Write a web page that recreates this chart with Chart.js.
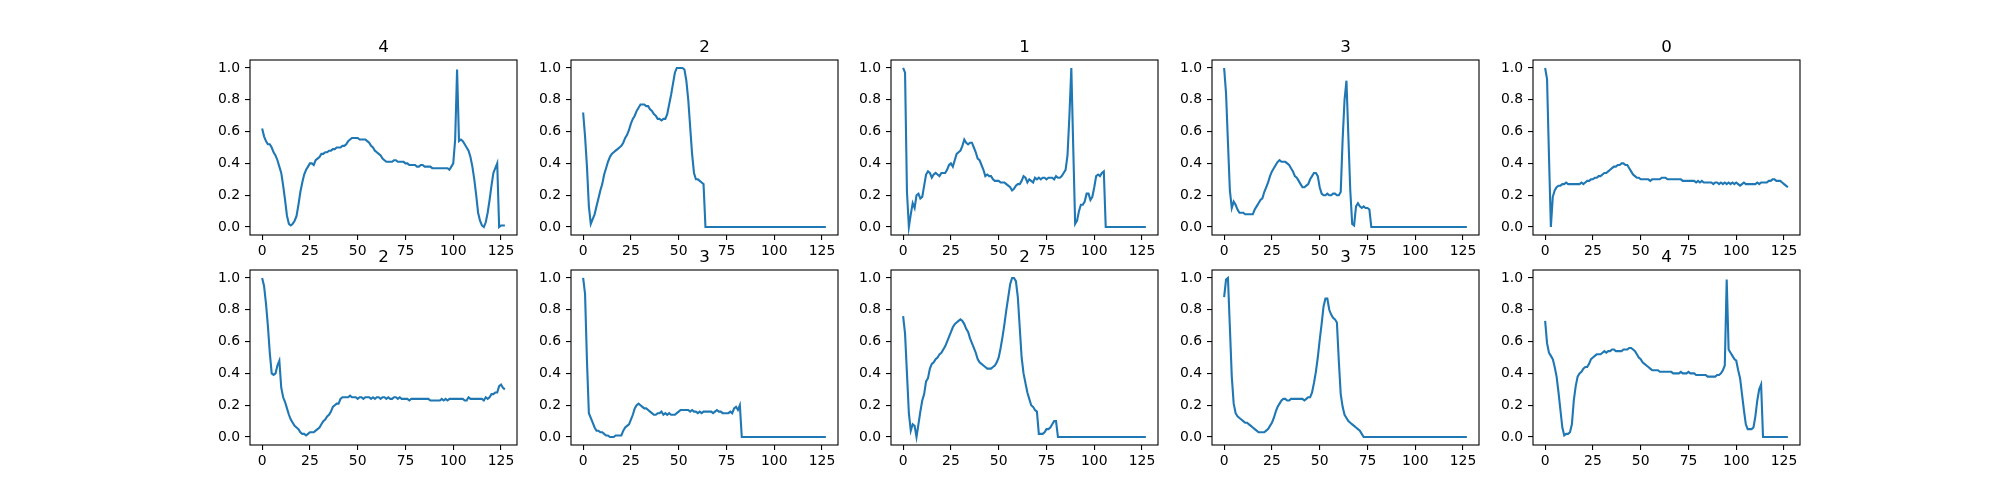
<!DOCTYPE html>
<html>
<head>
<meta charset="utf-8">
<script src="https://cdn.jsdelivr.net/npm/chart.js@4.4.0/dist/chart.umd.min.js"></script>
<style>
    html, body { margin: 0; padding: 0; background: #fff; }
    #fig { position: relative; width: 2000px; height: 500px; overflow: hidden; background: #fff; }
    #fig canvas { position: absolute; }
</style>
</head>
<body>
<div id="fig"></div>
<script>
var titles = ['4', '2', '1', '3', '0', '2', '3', '2', '3', '4'];
var xTicks = [0, 25, 50, 75, 100, 125];
var yTicks = [0, 0.2, 0.4, 0.6, 0.8, 1.0];

var sig1 = [
    0.62,0.57,0.54,0.52,0.52,0.50,0.47,0.45,0.42,0.38,0.34,0.26,0.17,0.07,0.02,0.01,
    0.02,0.04,0.07,0.14,0.22,0.28,0.33,0.36,0.38,0.40,0.40,0.39,0.42,0.43,0.44,0.46,
    0.46,0.47,0.47,0.48,0.48,0.49,0.49,0.50,0.50,0.50,0.51,0.51,0.52,0.54,0.55,0.56,
    0.56,0.56,0.56,0.55,0.55,0.55,0.55,0.54,0.53,0.51,0.50,0.48,0.47,0.46,0.45,0.43,
    0.42,0.41,0.41,0.41,0.41,0.42,0.42,0.41,0.41,0.41,0.41,0.40,0.40,0.39,0.39,0.39,
    0.39,0.38,0.38,0.39,0.39,0.38,0.38,0.38,0.38,0.37,0.37,0.37,0.37,0.37,0.37,0.37,
    0.37,0.37,0.36,0.38,0.40,0.55,0.99,0.54,0.55,0.54,0.52,0.50,0.48,0.44,0.38,0.30,
    0.20,0.09,0.04,0.01,0.00,0.03,0.09,0.17,0.26,0.34,0.37,0.40,0.00,0.01,0.01,0.01
];
var sig2 = [
    0.72,0.57,0.38,0.13,0.02,0.05,0.08,0.13,0.18,0.23,0.27,0.33,0.37,0.41,0.44,0.46,
    0.47,0.48,0.49,0.50,0.51,0.53,0.56,0.58,0.61,0.65,0.68,0.70,0.73,0.75,0.77,0.77,
    0.77,0.76,0.76,0.74,0.73,0.71,0.70,0.68,0.68,0.67,0.68,0.68,0.71,0.77,0.83,0.90,
    0.97,1.00,1.00,1.00,1.00,0.99,0.92,0.80,0.63,0.46,0.34,0.30,0.30,0.29,0.28,0.27,
    0,0,0,0,0,0,0,0,0,0,0,0,0,0,0,0,
    0,0,0,0,0,0,0,0,0,0,0,0,0,0,0,0,
    0,0,0,0,0,0,0,0,0,0,0,0,0,0,0,0,
    0,0,0,0,0,0,0,0,0,0,0,0,0,0,0,0
];
var sig3 = [
    1.00,0.97,0.22,0.00,0.08,0.15,0.12,0.20,0.21,0.18,0.19,0.26,0.33,0.35,0.34,0.31,
    0.33,0.34,0.33,0.32,0.34,0.34,0.34,0.36,0.39,0.40,0.38,0.42,0.46,0.47,0.48,0.51,
    0.55,0.53,0.52,0.53,0.53,0.50,0.47,0.43,0.42,0.39,0.36,0.32,0.33,0.32,0.32,0.30,
    0.29,0.29,0.29,0.28,0.28,0.28,0.27,0.26,0.25,0.23,0.24,0.26,0.27,0.27,0.29,0.32,
    0.31,0.28,0.30,0.29,0.28,0.31,0.30,0.31,0.30,0.31,0.31,0.30,0.31,0.31,0.31,0.30,
    0.32,0.31,0.31,0.32,0.34,0.36,0.45,0.70,1.00,0.50,0.02,0.04,0.10,0.14,0.14,0.16,
    0.21,0.21,0.17,0.19,0.25,0.32,0.33,0.32,0.34,0.35,0,0,0,0,0,0,
    0,0,0,0,0,0,0,0,0,0,0,0,0,0,0,0
];
var sig4 = [
    1.00,0.84,0.53,0.23,0.12,0.16,0.14,0.11,0.09,0.09,0.09,0.08,0.08,0.08,0.08,0.08,
    0.11,0.13,0.15,0.17,0.18,0.22,0.25,0.28,0.32,0.35,0.37,0.39,0.41,0.42,0.41,0.41,
    0.41,0.40,0.39,0.37,0.35,0.32,0.31,0.29,0.27,0.25,0.25,0.26,0.27,0.30,0.32,0.34,
    0.34,0.32,0.25,0.21,0.20,0.20,0.21,0.20,0.20,0.21,0.21,0.20,0.20,0.22,0.55,0.80,
    0.92,0.57,0.23,0.02,0.01,0.13,0.15,0.13,0.12,0.13,0.12,0.12,0.11,0,0,0,
    0,0,0,0,0,0,0,0,0,0,0,0,0,0,0,0,
    0,0,0,0,0,0,0,0,0,0,0,0,0,0,0,0,
    0,0,0,0,0,0,0,0,0,0,0,0,0,0,0,0
];
var sig5 = [
    1.00,0.93,0.45,0.00,0.19,0.23,0.25,0.26,0.26,0.27,0.27,0.28,0.27,0.27,0.27,0.27,
    0.27,0.27,0.27,0.28,0.27,0.28,0.29,0.29,0.30,0.30,0.31,0.31,0.32,0.32,0.33,0.34,
    0.34,0.35,0.36,0.37,0.38,0.38,0.39,0.39,0.40,0.40,0.39,0.39,0.37,0.35,0.33,0.32,
    0.31,0.31,0.30,0.30,0.30,0.30,0.30,0.29,0.30,0.30,0.30,0.30,0.30,0.31,0.31,0.31,
    0.30,0.30,0.30,0.30,0.30,0.30,0.30,0.30,0.29,0.29,0.29,0.29,0.29,0.29,0.29,0.28,
    0.29,0.28,0.29,0.28,0.28,0.28,0.28,0.28,0.27,0.28,0.28,0.27,0.28,0.27,0.28,0.27,
    0.28,0.27,0.28,0.27,0.28,0.27,0.26,0.27,0.28,0.27,0.27,0.27,0.27,0.27,0.27,0.28,
    0.27,0.28,0.28,0.28,0.28,0.29,0.29,0.30,0.30,0.29,0.29,0.29,0.28,0.27,0.26,0.25
];
var sig6 = [
    1.00,0.95,0.84,0.70,0.53,0.40,0.39,0.40,0.45,0.48,0.31,0.25,0.22,0.18,0.14,0.11,
    0.09,0.07,0.06,0.05,0.03,0.02,0.02,0.01,0.02,0.03,0.03,0.03,0.04,0.05,0.06,0.08,
    0.10,0.11,0.13,0.14,0.16,0.19,0.20,0.21,0.21,0.24,0.25,0.25,0.25,0.25,0.26,0.25,
    0.25,0.25,0.24,0.25,0.25,0.24,0.25,0.25,0.25,0.24,0.25,0.24,0.25,0.25,0.24,0.25,
    0.25,0.24,0.25,0.24,0.24,0.25,0.25,0.24,0.25,0.24,0.24,0.24,0.24,0.23,0.24,0.24,
    0.24,0.24,0.24,0.24,0.24,0.24,0.24,0.24,0.23,0.23,0.23,0.23,0.23,0.23,0.24,0.23,
    0.24,0.23,0.24,0.24,0.24,0.24,0.24,0.24,0.24,0.24,0.23,0.23,0.25,0.24,0.24,0.24,
    0.24,0.24,0.24,0.24,0.23,0.25,0.24,0.25,0.27,0.27,0.28,0.28,0.32,0.33,0.31,0.30
];
var sig7 = [
    1.00,0.90,0.48,0.15,0.12,0.09,0.06,0.04,0.04,0.03,0.03,0.02,0.01,0.01,0.00,0.00,
    0.00,0.01,0.01,0.01,0.01,0.04,0.06,0.07,0.08,0.11,0.14,0.18,0.20,0.21,0.20,0.19,
    0.18,0.18,0.17,0.16,0.15,0.14,0.14,0.15,0.15,0.16,0.14,0.15,0.14,0.15,0.14,0.14,
    0.14,0.15,0.16,0.17,0.17,0.17,0.17,0.17,0.16,0.17,0.16,0.16,0.15,0.16,0.15,0.16,
    0.16,0.16,0.16,0.16,0.15,0.16,0.17,0.16,0.16,0.15,0.15,0.15,0.15,0.16,0.15,0.18,
    0.19,0.17,0.20,0,0,0,0,0,0,0,0,0,0,0,0,0,
    0,0,0,0,0,0,0,0,0,0,0,0,0,0,0,0,
    0,0,0,0,0,0,0,0,0,0,0,0,0,0,0,0
];
var sig8 = [
    0.76,0.65,0.40,0.15,0.04,0.08,0.07,0.00,0.08,0.16,0.23,0.27,0.35,0.37,0.43,0.46,
    0.47,0.49,0.50,0.52,0.53,0.55,0.57,0.60,0.63,0.66,0.69,0.71,0.72,0.73,0.74,0.73,
    0.71,0.68,0.66,0.62,0.59,0.56,0.53,0.49,0.47,0.46,0.45,0.44,0.43,0.43,0.43,0.44,
    0.45,0.47,0.50,0.56,0.63,0.71,0.80,0.88,0.96,1.00,1.00,0.98,0.88,0.69,0.50,0.40,
    0.34,0.28,0.24,0.20,0.19,0.17,0.16,0.02,0.02,0.02,0.03,0.05,0.05,0.06,0.08,0.10,
    0.10,0,0,0,0,0,0,0,0,0,0,0,0,0,0,0,
    0,0,0,0,0,0,0,0,0,0,0,0,0,0,0,0,
    0,0,0,0,0,0,0,0,0,0,0,0,0,0,0,0
];
var sig9 = [
    0.88,0.99,1.00,0.69,0.38,0.21,0.15,0.13,0.12,0.11,0.10,0.09,0.09,0.08,0.07,0.06,
    0.05,0.04,0.03,0.03,0.03,0.03,0.04,0.05,0.07,0.09,0.12,0.16,0.19,0.21,0.23,0.24,
    0.24,0.23,0.23,0.24,0.24,0.24,0.24,0.24,0.24,0.24,0.23,0.24,0.25,0.25,0.28,0.34,
    0.41,0.50,0.61,0.71,0.82,0.87,0.87,0.80,0.77,0.75,0.74,0.72,0.48,0.27,0.19,0.14,
    0.12,0.10,0.09,0.08,0.07,0.06,0.05,0.04,0.02,0,0,0,0,0,0,0,
    0,0,0,0,0,0,0,0,0,0,0,0,0,0,0,0,
    0,0,0,0,0,0,0,0,0,0,0,0,0,0,0,0,
    0,0,0,0,0,0,0,0,0,0,0,0,0,0,0,0
];
var sig10 = [
    0.73,0.59,0.53,0.51,0.49,0.44,0.38,0.28,0.17,0.06,0.01,0.02,0.02,0.03,0.08,0.23,
    0.32,0.38,0.40,0.41,0.43,0.44,0.44,0.46,0.49,0.50,0.51,0.52,0.52,0.52,0.53,0.54,
    0.53,0.54,0.54,0.55,0.55,0.54,0.54,0.54,0.54,0.55,0.55,0.55,0.56,0.56,0.55,0.54,
    0.52,0.50,0.49,0.47,0.46,0.45,0.44,0.43,0.42,0.42,0.42,0.42,0.41,0.41,0.41,0.41,
    0.41,0.41,0.41,0.40,0.40,0.40,0.40,0.41,0.40,0.40,0.40,0.41,0.40,0.40,0.40,0.39,
    0.39,0.39,0.39,0.39,0.39,0.38,0.38,0.38,0.38,0.38,0.39,0.39,0.40,0.42,0.45,0.99,
    0.55,0.53,0.51,0.49,0.48,0.42,0.37,0.27,0.17,0.08,0.05,0.05,0.05,0.06,0.13,0.23,
    0.30,0.33,0,0,0,0,0,0,0,0,0,0,0,0,0,0
];

var signals = [sig1, sig2, sig3, sig4, sig5, sig6, sig7, sig8, sig9, sig10];

/* ---- geometry: matplotlib default subplot params, 2 rows x 5 cols ---- */
var axW = 0.775 * 2000 / 5.8;
var axH = 0.77 * 500 / 2.2;
var Y_AXIS_W = 60, X_AXIS_H = 40, PAD_T = 40, PAD_R = 20;
var FONT = '"DejaVu Sans", "Liberation Sans", sans-serif';

// spine box + title, drawn like matplotlib's
var axesFrame = {
    id: 'axesFrame',
    afterDraw: function (chart) {
        var a = chart.chartArea, ctx = chart.ctx;
        ctx.save();
        ctx.strokeStyle = '#000';
        ctx.lineWidth = 1.1;
        ctx.strokeRect(a.left, a.top, a.right - a.left, a.bottom - a.top);
        ctx.fillStyle = '#000';
        ctx.font = '16.7px ' + FONT;
        ctx.textAlign = 'center';
        ctx.textBaseline = 'alphabetic';
        ctx.fillText(chart.options.plugins.axesFrame.title, (a.left + a.right) / 2, a.top - 8);
        ctx.restore();
    }
};

function makeAxes(idx) {
    var row = Math.floor(idx / 5), col = idx % 5;
    var left = Math.round(250 + col * axW * 1.2);
    var top = Math.round(60 + row * axH * 1.2);

    var cv = document.createElement('canvas');
    cv.width = Math.round(axW) + Y_AXIS_W + PAD_R;
    cv.height = Math.round(axH) + PAD_T + X_AXIS_H;
    cv.style.left = (left - Y_AXIS_W) + 'px';
    cv.style.top = (top - PAD_T) + 'px';
    document.getElementById('fig').appendChild(cv);

    var pts = signals[idx].map(function (v, i) { return { x: i, y: v }; });

    new Chart(cv, {
        type: 'line',
        data: {
            datasets: [{
                data: pts,
                borderColor: '#1f77b4',
                borderWidth: 2.1,
                pointRadius: 0,
                tension: 0,
                fill: false
            }]
        },
        options: {
            responsive: false,
            devicePixelRatio: 1,
            animation: false,
            layout: { padding: { top: PAD_T, right: PAD_R, left: 0, bottom: 0 } },
            plugins: {
                legend: { display: false },
                tooltip: { enabled: false },
                axesFrame: { title: titles[idx] }
            },
            scales: {
                x: {
                    type: 'linear',
                    min: -6.35,
                    max: 133.35,
                    afterBuildTicks: function (s) { s.ticks = xTicks.map(function (v) { return { value: v }; }); },
                    afterFit: function (s) { s.height = X_AXIS_H; },
                    ticks: {
                        autoSkip: false, maxRotation: 0, color: '#000', padding: 3,
                        font: { family: FONT, size: 13.9 },
                        callback: function (v) { return String(v); }
                    },
                    grid: { drawOnChartArea: false, drawTicks: true, tickLength: 5, color: '#000', lineWidth: 1.1 },
                    border: { display: false }
                },
                y: {
                    type: 'linear',
                    min: -0.05,
                    max: 1.05,
                    afterBuildTicks: function (s) { s.ticks = yTicks.map(function (v) { return { value: v }; }); },
                    afterFit: function (s) { s.width = Y_AXIS_W; },
                    ticks: {
                        autoSkip: false, color: '#000', padding: 5,
                        font: { family: FONT, size: 13.9 },
                        callback: function (v) { return v.toFixed(1); }
                    },
                    grid: { drawOnChartArea: false, drawTicks: true, tickLength: 5, color: '#000', lineWidth: 1.1 },
                    border: { display: false }
                }
            }
        },
        plugins: [axesFrame]
    });
}

for (var k = 0; k < signals.length; k++) makeAxes(k);
</script>
</body>
</html>
